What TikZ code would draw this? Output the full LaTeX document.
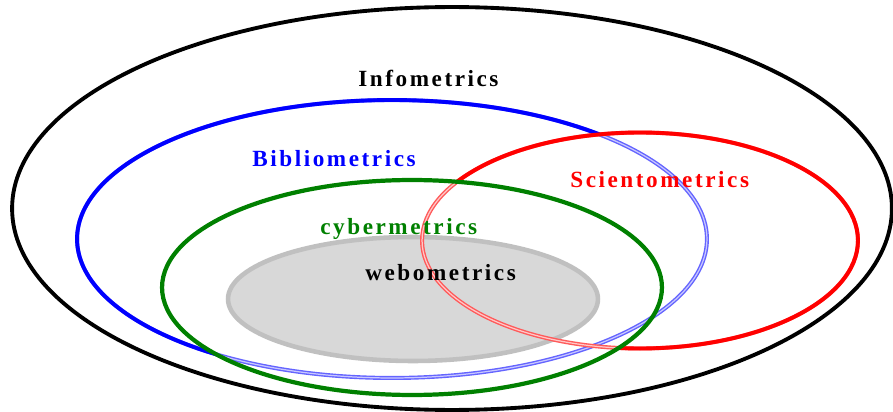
\documentclass[tikz,border=0pt]{standalone}
\usepackage{fontspec}
\setmainfont{Liberation Serif}
\newfontfamily\lblfont{Liberation Serif}[LetterSpace=11]
\definecolor{bluec}{RGB}{0,0,255}
\definecolor{redc}{RGB}{255,0,0}
\definecolor{greenc}{RGB}{0,128,0}
\definecolor{grayfill}{RGB}{216,216,216}
\definecolor{grayline}{RGB}{192,192,192}
\definecolor{lightblue}{RGB}{100,100,255}
\definecolor{lightred}{RGB}{255,90,90}
\definecolor{lightbluein}{RGB}{200,200,255}
\definecolor{lightredin}{RGB}{255,200,200}
\tikzset{
  lbl/.style={anchor=base west, inner sep=0pt, font=\lblfont\bfseries\fontsize{13.2}{15}\selectfont},
  solidline/.style={line width=2.2pt},
  faint/.style={line width=0.8pt, double distance=0.7pt},
}
\begin{document}
\begin{tikzpicture}[x=0.02cm, y=-0.02cm]
\useasboundingbox (0,0) rectangle (893,412);
% outer Infometrics
\draw[solidline, black] (452,208.5) ellipse [x radius=8.80cm, y radius=4.03cm];
% webometrics (gray filled)
\draw[line width=2.6pt, draw=grayline, fill=grayfill] (413,299) ellipse [x radius=3.70cm, y radius=1.24cm];
% faint full ellipses
\draw[faint, draw=lightblue, double=lightbluein] (392,239) ellipse [x radius=6.30cm, y radius=2.78cm];
\draw[faint, draw=lightred, double=lightredin] (640,240.5) ellipse [x radius=4.36cm, y radius=2.16cm];
% solid blue part: outside red and outside green
\begin{scope}[even odd rule]
  \clip (-20,-20) rectangle (913,432) (640,240.5) ellipse [x radius=4.36cm, y radius=2.16cm];
  \begin{scope}[even odd rule]
    \clip (-20,-20) rectangle (913,432) (412,287.5) ellipse [x radius=5.00cm, y radius=2.15cm];
    \draw[solidline, bluec] (392,239) ellipse [x radius=6.30cm, y radius=2.78cm];
  \end{scope}
\end{scope}
% solid red part: outside green
\begin{scope}[even odd rule]
  \clip (-20,-20) rectangle (913,432) (412,287.5) ellipse [x radius=5.00cm, y radius=2.15cm];
  \draw[solidline, redc] (640,240.5) ellipse [x radius=4.36cm, y radius=2.16cm];
\end{scope}
% green cybermetrics
\draw[line width=2.4pt, greenc] (412,287.5) ellipse [x radius=5.00cm, y radius=2.15cm];
% labels
\node[lbl, text=black] (info) at (358,87) {Infometrics};
\node[lbl, text=bluec] (biblio) at (252,167) {Bibliometrics};
\node[lbl, text=redc] (scient) at (570,188) {Scientometrics};
\node[lbl, text=greenc] (cyber) at (320,235) {cybermetrics};
\node[lbl, text=black] (webo) at (365,280) {webometrics};
\end{tikzpicture}
\end{document}
